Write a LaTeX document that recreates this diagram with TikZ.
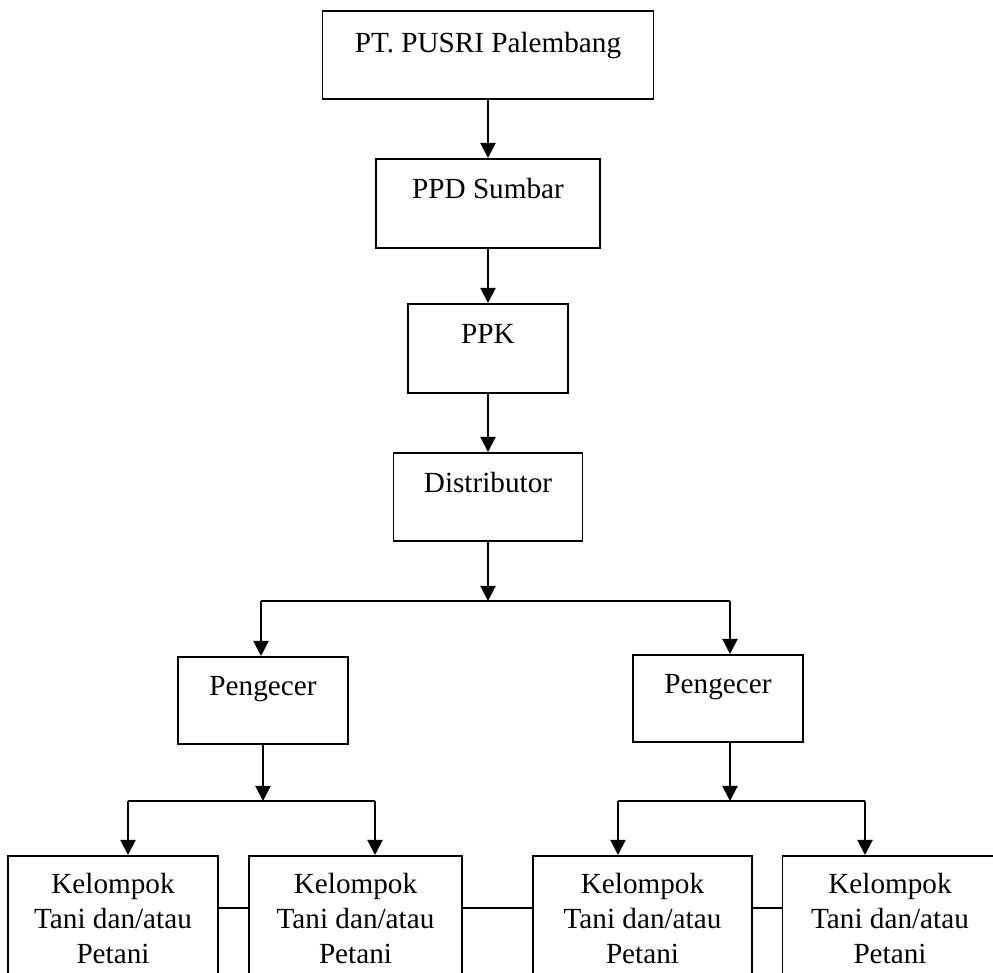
\documentclass[tikz,border=0pt]{standalone}
\usepackage{fontspec}
\setmainfont{Liberation Serif}
\usetikzlibrary{arrows.meta}

\begin{document}
\begin{tikzpicture}[x=0.5pt,y=-0.5pt,
  font=\fontsize{14.6}{17.5}\selectfont,
  box/.style={draw,line width=0.9pt,inner sep=0pt,anchor=north,text height=20pt,text depth=24pt},
  kbox/.style={draw,line width=0.9pt,inner sep=0pt,anchor=north,align=center,text height=54pt,text depth=12pt},
  arr/.style={line width=1pt,-{Triangle[width=7.5pt,length=7.5pt]}},
  link/.style={line width=1pt}]
\clip (0,0) rectangle (993,973);
% chain from the top
\node[box,minimum width=165.5pt,text height=21pt,text depth=23pt] (pusri) at (488,10) {PT. PUSRI Palembang};
\node[box,minimum width=112pt,text depth=24.5pt] (ppd) at (488,158) {PPD Sumbar};
\node[box,minimum width=80pt,text depth=24.5pt] (ppk) at (488,303) {PPK};
\node[box,minimum width=94.5pt] (dist) at (488,452) {Distributor};
\node[box,minimum width=85pt,text height=19.5pt] (peng1) at (263,656) {Pengecer};
\node[box,minimum width=85pt,text height=19.5pt] (peng2) at (718,654) {Pengecer};
% bottom row
\node[kbox,minimum width=105pt] (kel1) at (113,855) {Kelompok\\Tani dan/atau\\Petani};
\node[kbox,minimum width=106.5pt] (kel2) at (355.5,855) {Kelompok\\Tani dan/atau\\Petani};
\node[kbox,minimum width=109.5pt] (kel3) at (642.5,855) {Kelompok\\Tani dan/atau\\Petani};
\node[kbox,minimum width=107.5pt] (kel4) at (890,855) {Kelompok\\Tani dan/atau\\Petani};

\coordinate (bus) at (488,601);
\coordinate (busL) at (261,601);
\coordinate (busR) at (730,601);
\coordinate (k1) at (128,801);
\coordinate (k2) at (375,801);
\coordinate (k3) at (618,801);
\coordinate (k4) at (865,801);

\draw[arr] (pusri) -- (ppd);
\draw[arr] (ppd) -- (ppk);
\draw[arr] (ppk) -- (dist);
\draw[arr] (dist) -- (bus);
\draw[link] (busL) -- (busR);
\draw[arr] (busL) -- (busL |- peng1.north);
\draw[arr] (busR) -- (busR |- peng2.north);

\draw[arr] (peng1.south) -- (peng1.south |- k1);
\draw[link] (k1) -- (k2);
\draw[arr] (k1) -- (k1 |- kel1.north);
\draw[arr] (k2) -- (k2 |- kel2.north);
\draw[arr] (busR |- peng2.south) -- (busR |- k3);
\draw[link] (k3) -- (k4);
\draw[arr] (k3) -- (k3 |- kel3.north);
\draw[arr] (k4) -- (k4 |- kel4.north);

% side links between the groups
\draw[link] ([yshift=-26.5pt]kel1.north east) -- ([yshift=-26.5pt]kel2.north west);
\draw[link] ([yshift=-26.5pt]kel2.north east) -- ([yshift=-26.5pt]kel3.north west);
\draw[link] ([yshift=-26.5pt]kel3.north east) -- ([yshift=-26.5pt]kel4.north west);
\end{tikzpicture}
\end{document}
